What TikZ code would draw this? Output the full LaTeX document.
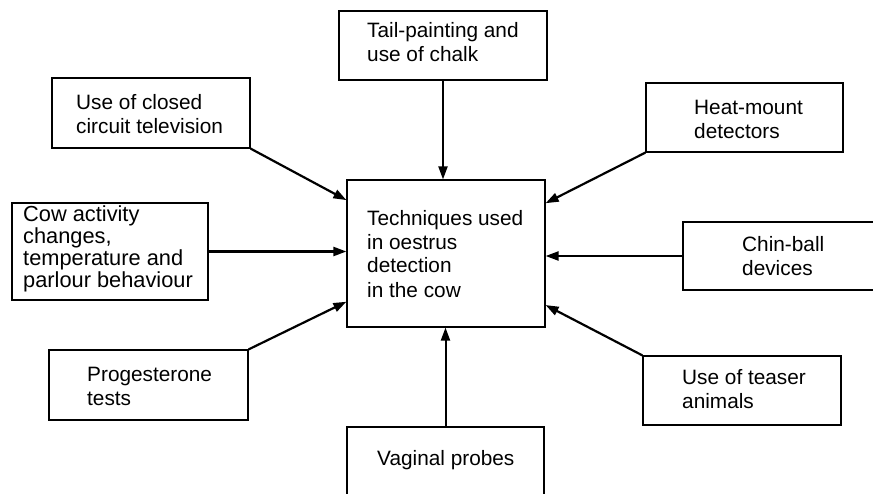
\documentclass[tikz,border=0pt]{standalone}
\usepackage{fontspec}
\setmainfont{Liberation Sans}
\usetikzlibrary{arrows.meta}
\begin{document}
\begin{tikzpicture}[x=1pt,y=-1pt,
  box/.style={draw,line width=1.2pt,rectangle,inner sep=0pt},
  lbl/.style={anchor=base west,align=left,inner sep=0pt,
    font=\fontsize{20.8}{23.5}\selectfont},
  conn/.style={line width=2.2pt,-{Triangle[length=13pt,width=9pt]}}]
\useasboundingbox (0,0) rectangle (873,493);
\clip (0,0) rectangle (873,493);
% boxes
\node[box,minimum width=198pt,minimum height=147pt] (ctr) at (446,253.5) {};
\node[box,minimum width=208pt,minimum height=69pt] (tail) at (443,45.5) {};
\node[box,minimum width=198pt,minimum height=70pt] (cctv) at (151,113) {};
\node[box,minimum width=196pt,minimum height=97pt] (cow) at (110,251.5) {};
\node[box,minimum width=199pt,minimum height=70pt] (prog) at (148.5,385) {};
\node[box,minimum width=197pt,minimum height=80pt] (vag) at (445.5,467) {};
\node[box,minimum width=197pt,minimum height=69pt] (heat) at (744.5,117.5) {};
\node[box,minimum width=207pt,minimum height=68pt] (chin) at (786.5,256) {};
\node[box,minimum width=198pt,minimum height=69pt] (teas) at (742,390.5) {};
% texts (anchor = baseline of last line)
\node[lbl] (tctr) at (367,297) {Techniques used\\[0.6pt]in oestrus\\detection\\[0.6pt]in the cow};
\node[lbl] (ttail) at (367,61) {Tail-painting and\\use of chalk};
\node[lbl] (tcctv) at (76,133) {Use of closed\\circuit television};
\node[lbl,font=\fontsize{21.8}{22}\selectfont] (tcow) at (23,287) {Cow activity\\changes,\\temperature and\\parlour behaviour};
\node[lbl] (tprog) at (87,405) {Progesterone\\tests};
\node[lbl] (tvag) at (377,465) {Vaginal probes};
\node[lbl] (theat) at (694,138) {Heat-mount\\detectors};
\node[lbl] (tchin) at (742,275) {Chin-ball\\devices};
\node[lbl] (tteas) at (682,408) {Use of teaser\\animals};
% connectors
\draw[conn,line width=2pt] (tail.south) -- (tail.south |- ctr.north);
\draw[conn] (cctv.south east) -- (ctr);
\draw[conn] (cow.east) -- (cow.east -| ctr.west);
\draw[conn] (prog.north east) -- (ctr);
\draw[conn,line width=2pt] (vag.north) -- (vag.north |- ctr.south);
\draw[conn] (heat.south west) -- (ctr);
\draw[conn] (chin.west) -- (chin.west -| ctr.east);
\draw[conn] (teas.north west) -- (ctr);
\end{tikzpicture}
\end{document}
